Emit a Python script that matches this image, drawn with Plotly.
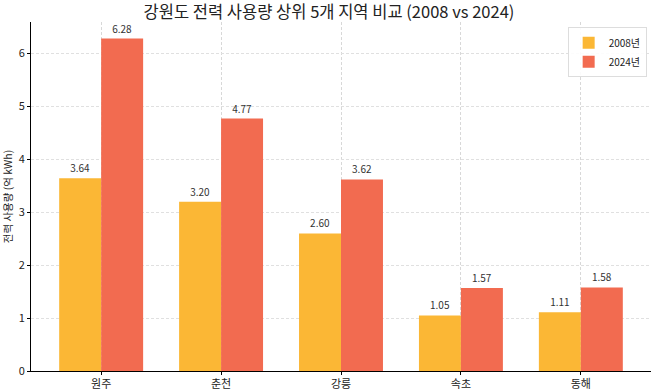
import plotly.graph_objects as go

regions = ["원주", "춘천", "강릉", "속초", "동해"]
usage_2008 = [3.64, 3.20, 2.60, 1.05, 1.11]
usage_2024 = [6.28, 4.77, 3.62, 1.57, 1.58]

FONT = "Noto Sans CJK KR"

fig = go.Figure()
fig.add_trace(go.Bar(
    x=regions, y=usage_2008, name="2008년",
    marker=dict(color="#FBB735", line=dict(width=0)),
    text=[f"{v:.2f}" for v in usage_2008], textposition="outside",
    textfont=dict(size=10, color="#333333"), cliponaxis=False,
))
fig.add_trace(go.Bar(
    x=regions, y=usage_2024, name="2024년",
    marker=dict(color="#F26B50", line=dict(width=0)),
    text=[f"{v:.2f}" for v in usage_2024], textposition="outside",
    textfont=dict(size=10, color="#333333"), cliponaxis=False,
))

fig.update_layout(
    width=658, height=392,
    margin=dict(l=31, r=7, t=22, b=21),
    paper_bgcolor="white", plot_bgcolor="white",
    font=dict(family=FONT, size=10, color="#222222"),
    title=dict(text="강원도 전력 사용량 상위 5개 지역 비교 (2008 vs 2024)",
               x=0.5, xanchor="center", y=0.968, yanchor="middle",
               font=dict(size=16.5, color="#222222")),
    barmode="group", bargap=0.3, bargroupgap=0,
    showlegend=True,
    legend=dict(x=0.993, y=0.985, xanchor="right", yanchor="top",
                bgcolor="rgba(255,255,255,0.9)", bordercolor="#dddddd", borderwidth=1,
                font=dict(size=10), traceorder="normal", tracegroupgap=2,
                itemsizing="constant", itemwidth=30),
)
fig.update_xaxes(
    range=[-0.585, 4.585], showline=True, linecolor="black", linewidth=1,
    ticks="outside", ticklen=3, tickcolor="black", automargin=False,
    showgrid=True, gridcolor="#d8d8d8", griddash="3px,2px", gridwidth=0.7,
    tickfont=dict(size=11),
)
fig.update_yaxes(
    range=[0, 6.594], showline=True, linecolor="black", linewidth=1,
    ticks="outside", ticklen=3, tickcolor="black", dtick=1, automargin=False,
    showgrid=True, gridcolor="#e0e0e0", griddash="3px,2px", gridwidth=0.7,
    zeroline=False, tickfont=dict(size=11),
    title=dict(text="전력 사용량 (억 kWh)", font=dict(size=10.5), standoff=5),
)

fig.write_html("out.html",
               config={"displayModeBar": False},
               post_script="document.body.style.margin='0';document.body.style.overflow='hidden';")
